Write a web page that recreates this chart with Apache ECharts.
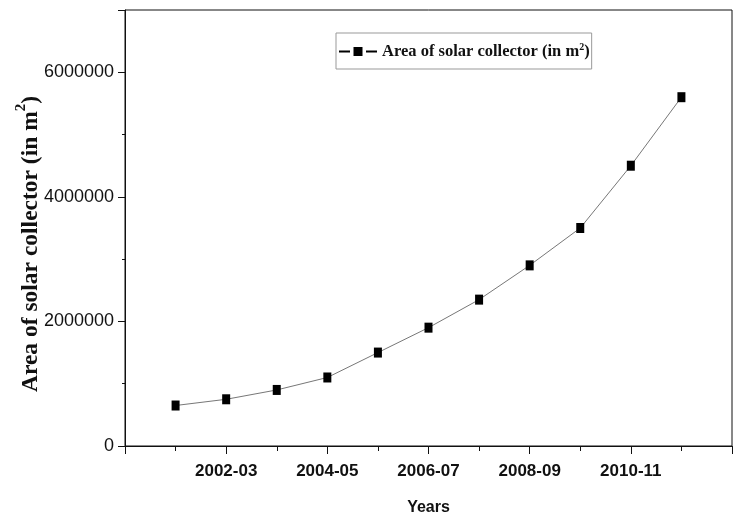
<!DOCTYPE html>
<html>
<head>
<meta charset="utf-8">
<script src="https://cdn.jsdelivr.net/npm/echarts@6/dist/echarts.min.js"></script>
<style>
  html, body { margin: 0; padding: 0; background: #fff; }
  #chart { width: 737px; height: 516px; }
</style>
</head>
<body>
<div id="chart"></div>
<script>
// Financial years, one point each
const years = ['2001-02', '2002-03', '2003-04', '2004-05', '2005-06', '2006-07',
               '2007-08', '2008-09', '2009-10', '2010-11', '2011-12'];
// Cumulative installed area of solar collectors (m²)
const collectorArea = [650000, 750000, 900000, 1100000, 1500000, 1900000,
                       2350000, 2900000, 3500000, 4500000, 5600000];
// Y-axis tick values
const yTicks = [0, 2000000, 4000000, 6000000];

const serif = '"Liberation Serif", "Times New Roman", serif';
const sans = '"Liberation Sans", Arial, sans-serif';

// Legend glyph: dash, square marker, dash
const legendIcon = 'path://M0,4L11,4L11,6L0,6Z M14.5,0.5L23.5,0.5L23.5,9.5L14.5,9.5Z M27,4L38,4L38,6L27,6Z';

const chart = echarts.init(document.getElementById('chart'), null, { renderer: 'canvas' });

chart.setOption({
  animation: false,
  backgroundColor: '#fff',
  grid: {
    left: 125, top: 10, right: 5, bottom: 70,
    outerBoundsMode: 'none',
    containLabel: false,
    show: true, borderColor: '#111', borderWidth: 1
  },
  legend: {
    left: 336, top: 33,
    padding: [9, 2, 9, 3],
    borderColor: '#999', borderWidth: 1,
    itemWidth: 38, itemHeight: 10, itemGap: 4,
    data: [{ name: 'area', icon: legendIcon, itemStyle: { color: '#000' } }],
    formatter: () => '{t|Area of solar collector (in m}{s|2}{t|)}',
    textStyle: {
      rich: {
        t: { fontFamily: serif, fontWeight: 'bold', fontSize: 16.5, color: '#111' },
        s: { fontFamily: serif, fontWeight: 'bold', fontSize: 10, color: '#111', verticalAlign: 'top', padding: [0, 0, 9, 0] }
      }
    }
  },
  xAxis: {
    type: 'value',
    min: 0, max: 12, interval: 2,
    name: 'Years',
    nameLocation: 'middle',
    nameGap: 54,
    nameMoveOverlap: false,
    nameTextStyle: { fontFamily: sans, fontWeight: 'bold', fontSize: 16, color: '#111' },
    axisLine: { lineStyle: { color: '#111', width: 1 } },
    axisTick: { show: true, inside: false, length: 8, lineStyle: { color: '#111' } },
    minorTick: { show: true, splitNumber: 2, length: 5, lineStyle: { color: '#111' } },
    splitLine: { show: false },
    axisLabel: {
      margin: 17,
      fontFamily: sans, fontWeight: 'bold', fontSize: 17, color: '#111',
      formatter: v => (v > 0 && v < 12) ? years[v - 1] : ''
    }
  },
  yAxis: {
    type: 'value',
    min: 0, max: 7000000, interval: 2000000,
    name: '{t|Area of solar collector (in m}{s|2}{t|)}',
    nameLocation: 'middle',
    nameRotate: 90,
    nameGap: 78,
    nameMoveOverlap: false,
    nameTextStyle: {
      padding: [0, 32, 0, 0],
      rich: {
        t: { fontFamily: serif, fontWeight: 'bold', fontSize: 23.5, color: '#111' },
        s: { fontFamily: serif, fontWeight: 'bold', fontSize: 15, color: '#111', verticalAlign: 'top', padding: [0, 0, 18, 0] }
      }
    },
    axisLine: { show: true, lineStyle: { color: '#111', width: 1 } },
    axisTick: { show: true, inside: false, length: 7, lineStyle: { color: '#111' } },
    minorTick: { show: true, splitNumber: 2, length: 3, lineStyle: { color: '#111' } },
    splitLine: { show: false },
    axisLabel: {
      margin: 11,
      fontFamily: sans, fontSize: 18, color: '#111',
      formatter: v => yTicks.includes(v) ? String(v) : ''
    }
  },
  series: [{
    name: 'area',
    type: 'line',
    data: collectorArea.map((v, i) => [i + 1, v]),
    symbol: 'rect',
    symbolSize: [8, 10],
    itemStyle: { color: '#000' },
    lineStyle: { color: '#777', width: 1 }
  }]
});
</script>
</body>
</html>
